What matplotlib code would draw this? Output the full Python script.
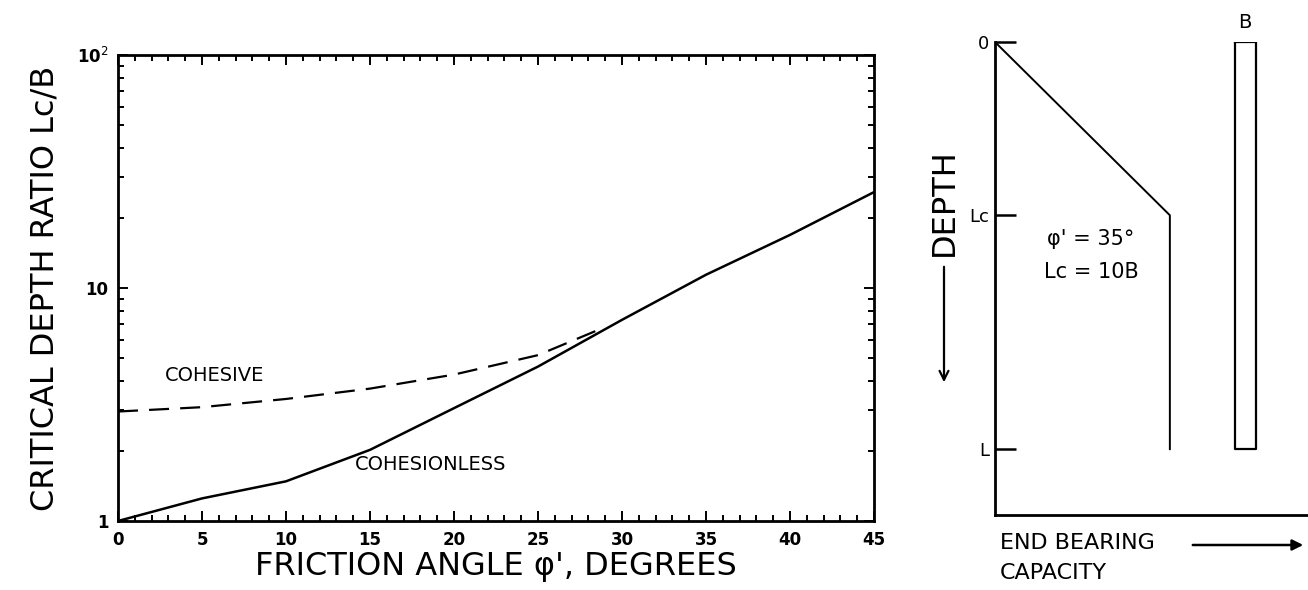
import matplotlib.pyplot as plt
import numpy as np

# critical depth ratio curves
phi = [0, 5, 10, 15, 20, 25, 30, 35, 40, 45]
cohesionless = [1.0, 1.25, 1.48, 2.02, 3.05, 4.6, 7.3, 11.4, 16.9, 25.8]
phi_coh = [0, 5, 10, 15, 20, 25, 29]
cohesive = [2.95, 3.08, 3.34, 3.7, 4.25, 5.15, 6.8]

xticks = [0, 5, 10, 15, 20, 25, 30, 35, 40, 45]
yticks = [1, 10, 100]
ytick_labels = ["1", "10", "10$^2$"]

# sketch on the right: depth (in B) vs end bearing capacity
depth = [0, 10, 10, 23.5]
capacity = [0, 1.0, 1.0, 1.0]
depth_ticks = [0, 10, 23.5]
depth_labels = ["0", "Lc", "L"]
pile_x = [1.37, 1.49]
pile_depth = [0, 23.5]

W, H = 1308, 590
fig = plt.figure(figsize=(W / 100, H / 100), dpi=100)

#%% left: log plot
ax = fig.add_axes([118 / W, (H - 521) / H, (874 - 118) / W, (521 - 55) / H])
ax.plot(phi, cohesionless, color="black", lw=1.8)
ax.plot(phi_coh, cohesive, color="black", lw=1.6, dashes=(9, 5))
ax.set_yscale("log")
ax.set_xlim(0, 45)
ax.set_ylim(1, 100)
ax.set_xticks(xticks)
ax.set_xticks(np.arange(0, 46, 1), minor=True)
ax.set_yticks(yticks)
ax.set_yticklabels(ytick_labels)
ax.tick_params(which="both", direction="in", top=True, right=True, width=1.4)
ax.tick_params(which="major", length=7, labelsize=12, pad=7)
ax.tick_params(which="minor", length=4)
for lab in ax.get_xticklabels() + ax.get_yticklabels():
    lab.set_fontweight("bold")
for s in ax.spines.values():
    s.set_linewidth(2)
ax.set_xlabel("FRICTION ANGLE \u03c6', DEGREES", fontsize=23, labelpad=2)
ax.set_ylabel("CRITICAL DEPTH RATIO Lc/B", fontsize=23, labelpad=12)
ax.text(2.8, 4.2, "COHESIVE", fontsize=14, va="center")
ax.text(14.1, 1.74, "COHESIONLESS", fontsize=14, va="center")

#%% right: schematic
ax2 = fig.add_axes([995 / W, (H - 515) / H, (W - 995) / W, (515 - 42) / H])
ax2.plot(capacity, depth, color="black", lw=1.4)
ax2.plot([pile_x[0], pile_x[0], pile_x[1], pile_x[1], pile_x[0]],
         [pile_depth[0], pile_depth[1], pile_depth[1], pile_depth[0], pile_depth[0]],
         color="black", lw=1.6)
ax2.set_xlim(0, 1.79)
ax2.set_ylim(27.3, 0)
ax2.spines["top"].set_visible(False)
ax2.spines["right"].set_visible(False)
ax2.spines["left"].set_linewidth(2)
ax2.spines["bottom"].set_linewidth(2)
ax2.set_xticks([])
ax2.set_yticks(depth_ticks)
ax2.set_yticklabels(depth_labels)
ax2.tick_params(axis="y", direction="in", length=15, width=1.8, labelsize=13, pad=4)
ax2.text(pile_x[0] + 0.06, -0.6, "B", fontsize=14, ha="center", va="bottom")
ax2.text(0.55, 11.7, "\u03c6' = 35\u00b0", fontsize=15, ha="center")
ax2.text(0.55, 13.6, "Lc = 10B", fontsize=15, ha="center")

# depth arrow and capacity arrow
fig.text(944 / W, 1 - 202 / H, "DEPTH", rotation=90, fontsize=23, ha="center", va="center")
fig.add_artist(plt.matplotlib.patches.FancyArrowPatch(
    (944 / W, 1 - 264 / H), (944 / W, 1 - 385 / H), transform=fig.transFigure,
    arrowstyle="->", mutation_scale=16, color="black", lw=1.6))
fig.text(1000 / W, 1 - 543 / H, "END BEARING", fontsize=16, va="center")
fig.text(1000 / W, 1 - 573 / H, "CAPACITY", fontsize=16, va="center")
fig.add_artist(plt.matplotlib.patches.FancyArrowPatch(
    (1190 / W, 1 - 545 / H), (1306 / W, 1 - 545 / H), transform=fig.transFigure,
    arrowstyle="-|>", mutation_scale=16, color="black", lw=1.8))

fig.savefig("out.png", dpi=100)
